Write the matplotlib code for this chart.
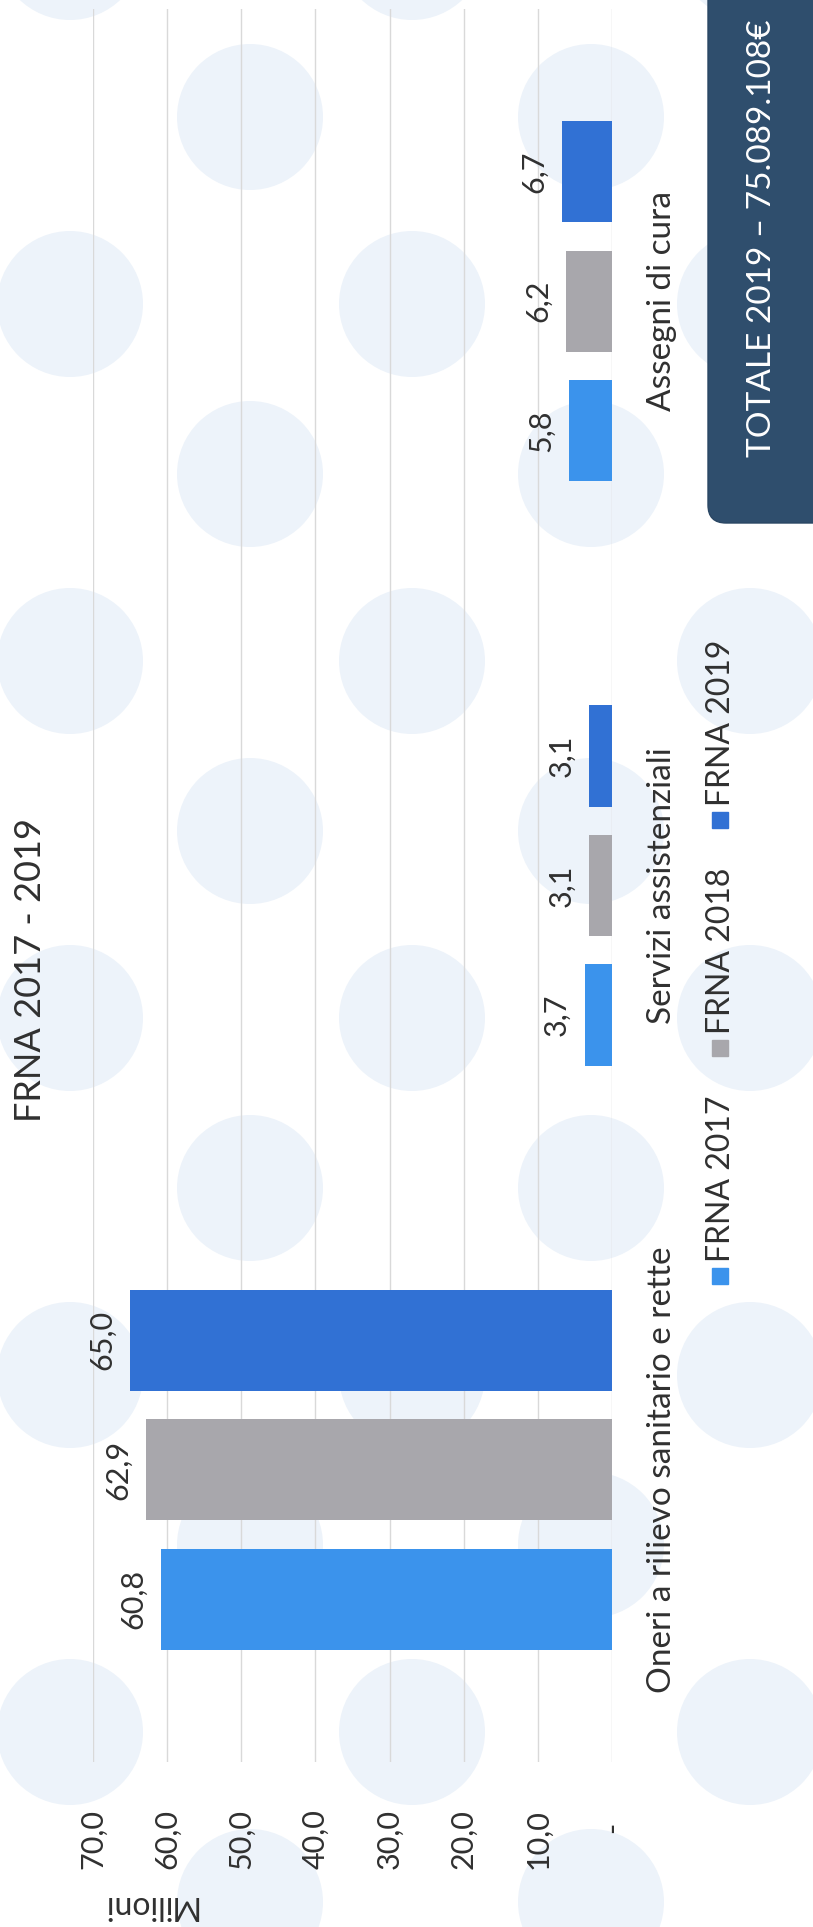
import matplotlib
matplotlib.use("Agg")
import matplotlib.pyplot as plt
from matplotlib.patches import Ellipse, Rectangle, FancyBboxPatch
from matplotlib.transforms import IdentityTransform, ScaledTranslation
from matplotlib.ticker import FuncFormatter

# ---- data ----
categories = ["Oneri a rilievo sanitario e rette", "Servizi assistenziali", "Assegni di cura"]
series_names = ["FRNA 2017", "FRNA 2018", "FRNA 2019"]
frna_2017 = [60.8, 3.7, 5.8]
frna_2018 = [62.9, 3.1, 6.2]
frna_2019 = [65.0, 3.1, 6.7]
value_ticks = [0, 10, 20, 30, 40, 50, 60, 70]
title = "FRNA 2017 - 2019"
axis_title = "Milioni"
total_text = "TOTALE 2019 \u2013 75.089.108\u20ac"

series_values = [frna_2017, frna_2018, frna_2019]
colors = ["#3b93ec", "#a8a7ac", "#3171d4"]
text_color = "#303030"

plt.rcParams['font.family'] = ['Lato', 'DejaVu Sans']

W, H = 813, 1927
DPI = 100
fig = plt.figure(figsize=(W / DPI, H / DPI), dpi=DPI, facecolor="white")


def fx(x):
    return x / W


def fy(y):  # y measured from top
    return 1 - y / H


# ---- background dots (decoration) ----
dot_r = 73
dot_color = "#edf3fa"
colA = [70, 412, 750]
colB = [250, 591]
for k in range(-1, 7):
    ya = 304 + k * 357
    yb = 117 + k * 357
    for x in colA:
        fig.patches.append(Ellipse((fx(x), fy(ya)), 2 * dot_r / W, 2 * dot_r / H,
                                   transform=fig.transFigure, color=dot_color, zorder=-2, lw=0))
    for x in colB:
        fig.patches.append(Ellipse((fx(x), fy(yb)), 2 * dot_r / W, 2 * dot_r / H,
                                   transform=fig.transFigure, color=dot_color, zorder=-2, lw=0))

# ---- axes (chart rotated 90 degrees counter-clockwise) ----
left_px, right_px, top_px, bottom_px = 93, 612, 9, 1762
ax = fig.add_axes([fx(left_px), fy(bottom_px), (right_px - left_px) / W, (bottom_px - top_px) / H])
ax.set_facecolor("none")
ax.set_zorder(1)

pitch = 0.2216
bar_h = 0.173
ypos = list(range(len(categories)))
for i, (vals, col) in enumerate(zip(series_values, colors)):
    off = (i - 1) * pitch
    ys = [y + off for y in ypos]
    ax.barh(ys, vals, height=bar_h, color=col, zorder=3, label=series_names[i])
    for y, v in zip(ys, vals):
        ax.annotate(f"{v:.1f}".replace(".", ","), xy=(v, y), xytext=(-10, 0),
                    textcoords="offset points", rotation=90, ha="right", va="center",
                    fontsize=22, color=text_color, zorder=4)

ax.set_xlim(70, 0)
ax.set_ylim(-0.5, 2.5)
ax.set_xticks(value_ticks)
ax.xaxis.set_major_formatter(FuncFormatter(
    lambda v, p: "-" if v == 0 else f"{v:.1f}".replace(".", ",")))
ax.tick_params(axis="x", length=0, pad=34, labelsize=22, labelrotation=90, labelcolor=text_color)
ax.xaxis.grid(True, color="#d9d9d9", lw=1, zorder=0)
ax.set_axisbelow(True)

ax.set_yticks(ypos)
ax.set_yticklabels(categories)
ax.yaxis.tick_right()
ax.tick_params(axis="y", length=0, pad=25, labelsize=24, labelcolor=text_color)
for lab in ax.get_yticklabels():
    lab.set_rotation(90)
    lab.set_va("center")
    lab.set_ha("left")

for s in ax.spines.values():
    s.set_visible(False)

# shift the "-" (zero) label down a little, like the accounting-format padding
fig.canvas.draw()
for lab in ax.get_xticklabels():
    if lab.get_text() == "-":
        lab.set_transform(lab.get_transform() + ScaledTranslation(0, -9 / 72, fig.dpi_scale_trans))

# ---- title, axis title ----
fig.text(fx(31), fy(970), title, rotation=90, ha="center", va="center",
         fontsize=26, color=text_color)
fig.text(fx(149), fy(1905), axis_title, rotation=180, ha="center", va="center",
         fontsize=23, color=text_color)

# ---- legend (rotated) ----
leg_x = 720
sq = 16
for i, (name, col) in enumerate(zip(series_names, colors)):
    cy = 1276 - i * 228
    fig.patches.append(Rectangle((leg_x - sq / 2, H - cy - sq / 2), sq, sq,
                                 transform=IdentityTransform(), color=col, zorder=2))
    fig.text(fx(leg_x + 1), fy(cy - sq / 2 - 6), name, rotation=90, ha="center", va="bottom",
             fontsize=23, color=text_color)

# ---- total box ----
box = FancyBboxPatch((708, H - 523), 140, 600,
                     boxstyle="round,pad=0,rounding_size=18",
                     transform=IdentityTransform(), facecolor="#2f4e6d", edgecolor="#2a4663",
                     lw=1, zorder=2)
fig.patches.append(box)
fig.text(fx(762), fy(457), total_text, rotation=90, ha="center", va="bottom",
         fontsize=24, color="white", zorder=3)

fig.savefig("out.png", dpi=DPI, facecolor="white")
